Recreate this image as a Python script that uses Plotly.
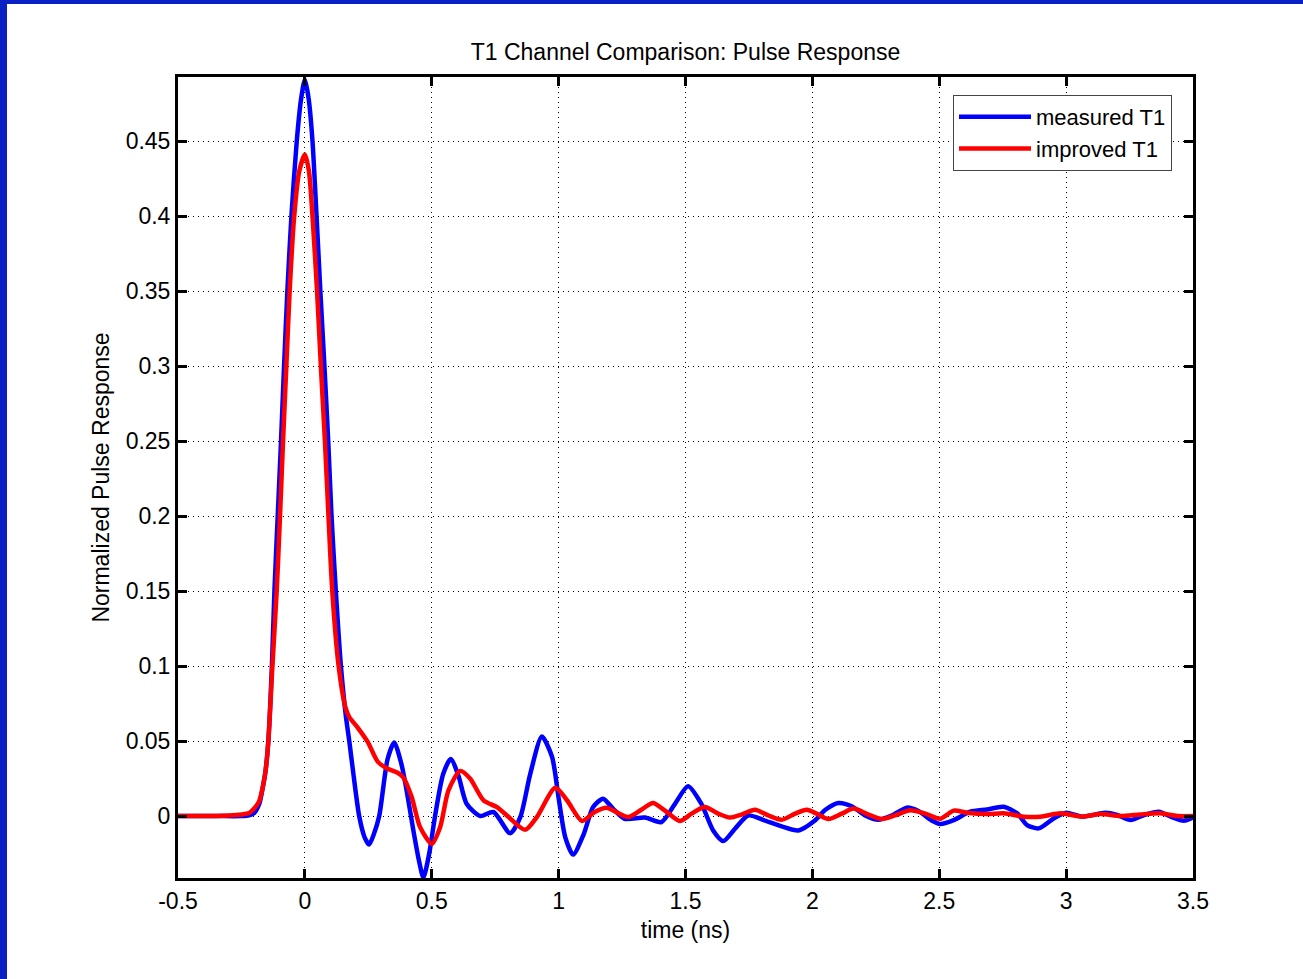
import plotly.graph_objects as go

# measured T1 pulse response (time in ns, normalized amplitude)
measured_t = [-0.5, -0.35, -0.25, -0.22, -0.2, -0.18, -0.165, -0.155, -0.144, -0.13, -0.12,
              -0.107, -0.094, -0.082, -0.069, -0.053, -0.032, -0.015, 0.0, 0.015, 0.03,
              0.046, 0.061, 0.077, 0.092, 0.105, 0.122, 0.142, 0.162, 0.175, 0.192,
              0.214, 0.235, 0.253, 0.272, 0.293, 0.326, 0.352, 0.38, 0.40, 0.428, 0.45, 0.467,
              0.49, 0.513, 0.545, 0.575, 0.605, 0.638, 0.691, 0.743, 0.809, 0.849, 0.888, 0.934,
              0.974, 1.0, 1.026, 1.057, 1.099, 1.136, 1.175, 1.214, 1.26, 1.34, 1.405, 1.458,
              1.51, 1.563, 1.609, 1.649, 1.695, 1.747, 1.813, 1.879, 1.945, 2.01, 2.05, 2.103,
              2.155, 2.208, 2.26, 2.313, 2.372, 2.418, 2.47, 2.504, 2.557, 2.622, 2.688, 2.754,
              2.807, 2.846, 2.892, 2.951, 3.0, 3.063, 3.155, 3.201, 3.254, 3.307, 3.366, 3.412,
              3.464, 3.5]
measured_v = [0.0, 0.0, 0.0, 0.0005, 0.002, 0.008, 0.02, 0.03, 0.05, 0.1, 0.15,
              0.2, 0.25, 0.3, 0.35, 0.4, 0.45, 0.478, 0.491, 0.478, 0.45,
              0.4, 0.35, 0.3, 0.25, 0.2, 0.15, 0.1, 0.066, 0.05, 0.027,
              0.0, -0.014, -0.019, -0.012, 0.0, 0.038, 0.049, 0.035, 0.018, -0.01, -0.03, -0.041,
              -0.025, 0.0, 0.028, 0.038, 0.027, 0.008, 0.0, 0.0027, -0.0114, -0.0007, 0.028, 0.053,
              0.0395, 0.012, -0.014, -0.0257, -0.012, 0.006, 0.0116, 0.005, -0.0018, -0.001, -0.004, 0.008,
              0.0199, 0.008, -0.0096, -0.0167, -0.0085, 0.0004, -0.003, -0.0069, -0.0096, -0.003, 0.004, 0.0087,
              0.0065, 0.0004, -0.0025, 0.0004, 0.0056, 0.0033, -0.003, -0.0053, -0.0027, 0.0029, 0.0044, 0.0062,
              0.0018, -0.006, -0.0082, -0.0016, 0.0022, -0.0004, 0.0022, 0.0007, -0.0027, 0.0007, 0.0029, -0.0004,
              -0.0031, -0.0009]

# improved T1 pulse response
improved_t = [-0.5, -0.35, -0.3, -0.25, -0.22, -0.2, -0.18, -0.165, -0.155, -0.144, -0.128,
              -0.111, -0.098, -0.086, -0.073, -0.06, -0.042, -0.022, 0.0, 0.016, 0.03,
              0.048, 0.063, 0.079, 0.093, 0.108, 0.133, 0.159, 0.175, 0.208, 0.247,
              0.287, 0.32, 0.364, 0.388, 0.421, 0.454, 0.5, 0.533, 0.566, 0.612, 0.651, 0.704,
              0.757, 0.796, 0.868, 0.914, 0.987, 1.033, 1.092, 1.142, 1.188, 1.274, 1.326,
              1.372, 1.418, 1.478, 1.524, 1.576, 1.629, 1.675, 1.721, 1.774, 1.826, 1.879,
              1.932, 1.978, 2.017, 2.063, 2.116, 2.162, 2.221, 2.274, 2.326, 2.386, 2.445,
              2.504, 2.557, 2.609, 2.688, 2.754, 2.833, 2.899, 2.978, 3.063, 3.136, 3.214,
              3.293, 3.372, 3.438, 3.5]
improved_v = [0.0, 0.0, 0.0003, 0.001, 0.002, 0.005, 0.01, 0.02, 0.03, 0.05, 0.1,
              0.15, 0.2, 0.25, 0.3, 0.35, 0.4, 0.43, 0.441, 0.43, 0.4,
              0.35, 0.3, 0.25, 0.2, 0.15, 0.1, 0.073, 0.066, 0.059, 0.0496,
              0.0363, 0.032, 0.029, 0.0257, 0.0127, -0.0074, -0.0185, -0.0074, 0.0172, 0.0301, 0.025, 0.0105,
              0.006, 0.0004, -0.0092, -0.0007, 0.0188, 0.0105, -0.0033, 0.0027, 0.0056, -0.0007, 0.0042,
              0.0087, 0.0038, -0.0033, 0.0016, 0.006, 0.0016, -0.001, 0.001, 0.0042, 0.0004, -0.0025,
              0.0016, 0.0042, 0.0016, -0.002, 0.0016, 0.005, 0.001, -0.002, 0.0004, 0.0038, 0.0016,
              -0.0018, 0.0036, 0.0022, 0.0013, 0.0018, -0.0004, -0.0004, 0.0018, -0.0004, 0.0013, 0.0,
              0.0011, 0.0018, 0.0, 0.0]

x_ticks = [-0.5, 0, 0.5, 1, 1.5, 2, 2.5, 3, 3.5]
x_labels = ["-0.5", "0", "0.5", "1", "1.5", "2", "2.5", "3", "3.5"]
y_ticks = [0, 0.05, 0.1, 0.15, 0.2, 0.25, 0.3, 0.35, 0.4, 0.45]
y_labels = ["0", "0.05", "0.1", "0.15", "0.2", "0.25", "0.3", "0.35", "0.4", "0.45"]

# page is offset by the slide's blue edge (7px left, 4px top)
W, H = 1296, 975
ml, mr, mt, mb = 171, 110, 73, 101
pw, ph = W - ml - mr, H - mt - mb
font = "Liberation Sans, Arial, sans-serif"

fig = go.Figure()
fig.add_trace(go.Scatter(x=measured_t, y=measured_v, mode="lines", name="measured T1",
                         line=dict(color="#0000ff", width=4.5, shape="spline", smoothing=0.7)))
fig.add_trace(go.Scatter(x=improved_t, y=improved_v, mode="lines", name="improved T1",
                         line=dict(color="#ff0000", width=4.5, shape="spline", smoothing=0.7)))

axis_common = dict(showline=True, linecolor="black", linewidth=3, mirror="ticks",
                   ticks="inside", ticklen=9, tickwidth=3, tickcolor="black",
                   showgrid=True, gridcolor="black", gridwidth=1, griddash="1px,4px",
                   zeroline=False, tickfont=dict(family=font, size=23, color="black"))

fig.update_xaxes(range=[-0.5, 3.5], tickvals=x_ticks, ticktext=x_labels,
                 title=dict(text="time (ns)", standoff=10,
                            font=dict(family=font, size=23, color="black")),
                 **axis_common)
fig.update_yaxes(range=[-0.0413, 0.4927], tickvals=y_ticks, ticktext=y_labels,
                 title=dict(text="Normalized Pulse Response", standoff=10,
                            font=dict(family=font, size=23, color="black")),
                 **axis_common)

fig.update_layout(
    width=W, height=H,
    margin=dict(l=ml, r=mr, t=mt, b=mb, autoexpand=False),
    paper_bgcolor="white", plot_bgcolor="white",
    title=dict(text="T1 Channel Comparison: Pulse Response", x=(ml + pw / 2) / W, xanchor="center",
               y=1 - 48 / H, yanchor="middle", font=dict(family=font, size=23, color="black")),
    legend=dict(x=(1165 - ml) / pw, xanchor="right", y=1 - (91 - mt) / ph, yanchor="top",
                bgcolor="white", bordercolor="#444", borderwidth=1, itemwidth=72,
                font=dict(family=font, size=22, color="black")),
    showlegend=True,
)

fig.write_html("out.html", post_script=(
    "document.body.style.margin='4px 0 0 7px';"
    "document.body.style.background='#0a1fc4';"
    "document.body.style.overflow='hidden';"))
